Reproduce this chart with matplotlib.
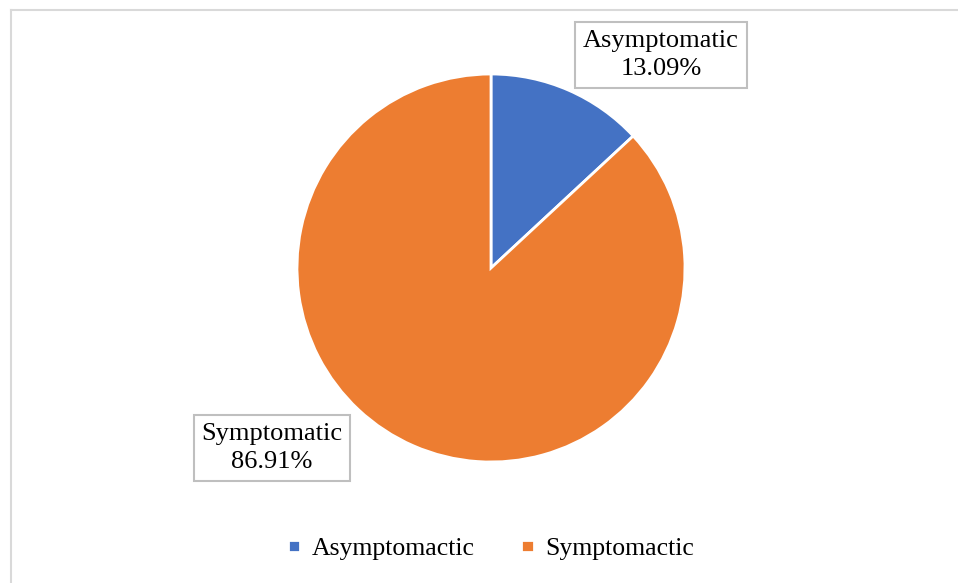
import matplotlib.pyplot as plt

labels = ['Asymptomatic', 'Symptomatic']
legend_labels = ['Asymptomactic', 'Symptomactic']
values = [13.09, 86.91]
colors = ['#4472C4', '#ED7D31']

plt.rcParams['font.family'] = ['Liberation Serif', 'DejaVu Serif']

W, H = 958, 583
fig = plt.figure(figsize=(W / 100, H / 100), dpi=100)
ax = fig.add_axes([0, 0, 1, 1])
ax.set_xlim(0, W)
ax.set_ylim(0, H)
ax.set_aspect('equal')
ax.axis('off')

# chart frame (only top and left edges are visible in the crop)
ax.plot([11, W + 5], [H - 10, H - 10], color='#D9D9D9', lw=1.5)
ax.plot([11, 11], [H - 10, -5], color='#D9D9D9', lw=1.5)

wedges, _ = ax.pie(values, colors=colors, startangle=90, counterclock=False,
                   center=(491, H - 268), radius=194,
                   wedgeprops=dict(edgecolor='white', linewidth=2))
ax.set_xlim(0, W)
ax.set_ylim(0, H)

label_pos = [(661, H - 55), (272, H - 448)]
for lab, v, (x, y) in zip(labels, values, label_pos):
    ax.text(x, y, f'{lab}\n{v:.2f}%', ha='center', va='center', fontsize=19,
            linespacing=1.35,
            bbox=dict(boxstyle='square,pad=0.3', fc='white', ec='#BFBFBF', lw=1.5))

fig.legend(wedges, legend_labels, loc='center', bbox_to_anchor=(491 / W, 1 - 549 / H),
           ncol=2, frameon=False, fontsize=18.5, handlelength=0.5, handleheight=0.36,
           handletextpad=0.45, columnspacing=1.8)

fig.savefig('out.png', dpi=100)
